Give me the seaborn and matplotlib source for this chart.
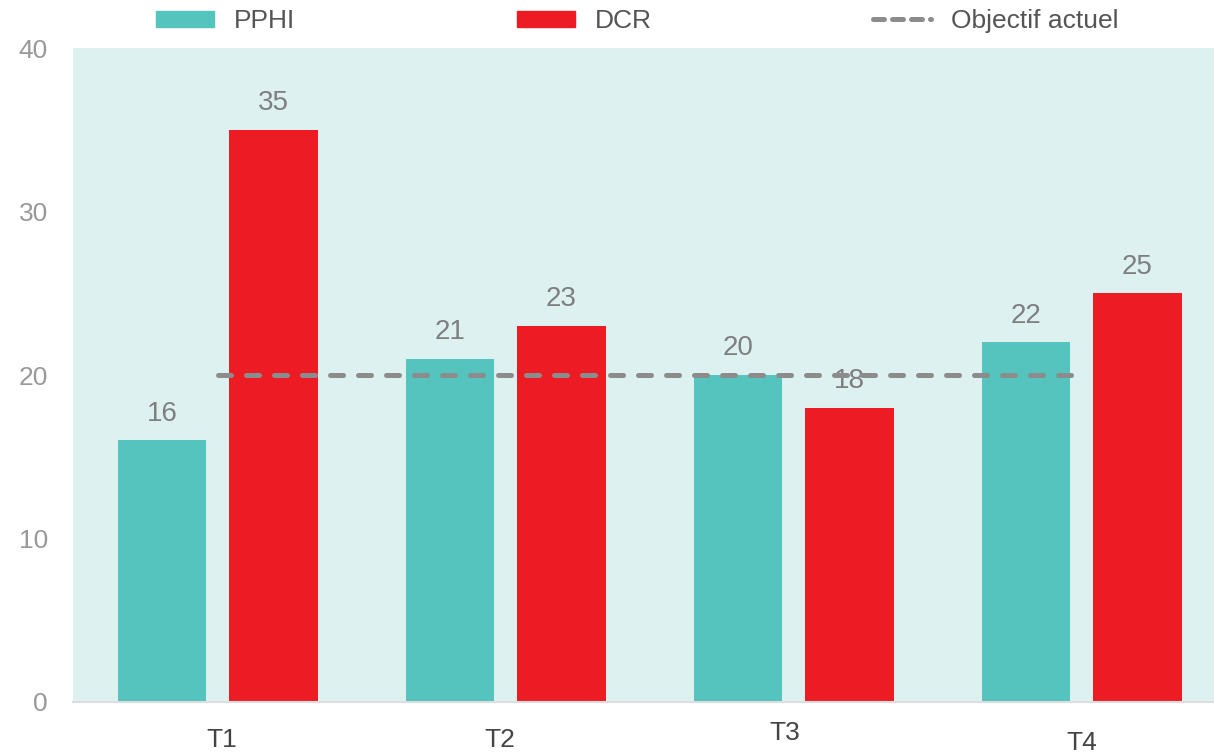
import matplotlib
matplotlib.use("Agg")
import matplotlib.pyplot as plt
import pandas as pd
import seaborn as sns
from matplotlib.patches import Patch
from matplotlib.lines import Line2D

# data
quarters = ["T1", "T2", "T3", "T4"]
pphi = [16, 21, 20, 22]
dcr = [35, 23, 18, 25]
objectif = [20, 20, 20, 20]

df = pd.DataFrame({
    "trimestre": quarters * 2,
    "valeur": pphi + dcr,
    "serie": ["PPHI"] * len(quarters) + ["DCR"] * len(quarters),
})

sns.set_theme(style="white")
plt.rcParams["font.family"] = ["Liberation Sans", "DejaVu Sans"]

fig = plt.figure(figsize=(12.14, 7.54), dpi=100)
ax = fig.add_axes([0.060, 0.069, 0.94, 0.867])
ax.set_facecolor("#ddf2f0")

colors = {"PPHI": "#55c4be", "DCR": "#ed1c24"}
sns.barplot(data=df, x="trimestre", y="valeur", hue="serie", order=quarters,
            hue_order=["PPHI", "DCR"], palette=colors, width=0.776, gap=0.21,
            saturation=1, ax=ax, legend=False, edgecolor="none", linewidth=0)

# objective line
ax.plot(range(len(quarters)), objectif, color="#8c8c8c", lw=3.6,
        linestyle=(0, (2.6, 3.0)), dash_capstyle="round",
        label="Objectif actuel", zorder=3)

# value labels
for cont in ax.containers:
    for bar in cont:
        h = bar.get_height()
        ax.annotate(f"{h:.0f}", (bar.get_x() + bar.get_width() / 2, h),
                    xytext=(0, 10), textcoords="offset points",
                    ha="center", va="bottom", fontsize=20, color="#7f7f7f",
                    zorder=2)

ax.set_xlim(-0.503, 3.46)
ax.set_ylim(0, 40)
ax.set_yticks([0, 10, 20, 30, 40])
ax.tick_params(axis="y", length=0, pad=18, labelsize=19, labelcolor="#999999")
ax.set_xticks([])
ax.set_xlabel("")
ax.set_ylabel("")
for s in ["top", "right", "left"]:
    ax.spines[s].set_visible(False)
ax.spines["bottom"].set_color("#dddddd")
ax.spines["bottom"].set_linewidth(1.5)

# staggered quarter labels
lab_dx = [0.014, -0.02, -0.03, 0.0]
lab_y = [-0.058, -0.058, -0.047, -0.063]
for i, q in enumerate(quarters):
    ax.text(i + lab_dx[i], lab_y[i], q, transform=ax.get_xaxis_transform(),
            ha="center", va="center", fontsize=19, color="#444444")

# legend along the top
handles = [Patch(color=colors["PPHI"]), Patch(color=colors["DCR"]),
           Line2D([0], [0], color="#8c8c8c", lw=3.6, linestyle=(0, (2.2, 1.6)),
                  dash_capstyle="round")]
fig.legend(handles, ["PPHI", "DCR", "Objectif actuel"], loc="center",
           bbox_to_anchor=(0.525, 0.972), ncol=3, frameon=False, fontsize=19,
           handlelength=2.2, handleheight=0.55, handletextpad=0.75,
           columnspacing=8.4, labelcolor="#555555")

fig.savefig("out.png", dpi=100)
